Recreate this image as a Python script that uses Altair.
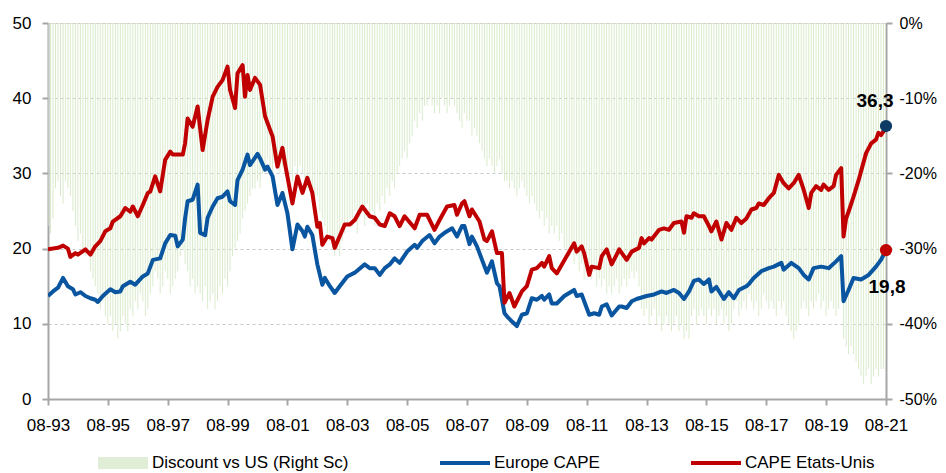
import altair as alt
import pandas as pd

# ---------------- data (month offsets from Aug 1993) ----------------
us_months = [0, 4, 6, 8, 9, 11, 12, 15, 17, 19, 21, 23, 25, 26, 29, 31, 33, 34, 36, 38, 40, 41, 43, 45, 47, 49, 50,
             54, 55, 56, 58, 60, 62, 64, 66, 68, 70, 72, 73, 75, 76, 78, 79, 80, 81, 83, 85, 87, 89, 90, 92, 94, 95,
             98, 100, 102, 104, 106, 108, 109, 110, 112, 114, 115, 119, 121, 123, 126, 129, 131, 133, 135, 137, 139,
             141, 143, 147, 149, 152, 155, 157, 160, 163, 164, 166, 167, 169, 170, 173, 175, 176, 178, 180, 182, 183,
             185, 187, 190, 192, 194, 196, 198, 199, 201, 202, 204, 208, 211, 212, 214, 215, 217, 218, 221, 222, 224,
             226, 228, 229, 232, 234, 237, 238, 239, 241, 242, 245, 247, 249, 251, 254, 255, 256, 258, 259, 261, 263,
             265, 266, 268, 270, 272, 274, 276, 278, 280, 282, 284, 285, 287, 289, 291, 293, 295, 297, 299, 301, 303,
             305, 306, 308, 310, 311, 313, 315, 316, 318, 319, 320, 321, 323, 325, 326, 328, 330, 332, 333, 334, 335, 336]
us_cape = [19.9, 20.1, 20.4, 20.0, 18.9, 19.4, 19.2, 19.9, 19.2, 20.3, 21.0, 22.3, 22.7, 23.6, 24.3, 25.4, 24.9, 25.6,
           24.3, 25.8, 27.4, 27.6, 29.6, 27.6, 31.8, 32.9, 32.5,
           32.5, 34.0, 37.3, 36.2, 38.9, 33.1, 37.1, 40.2, 41.5, 42.4, 44.2, 41.1, 38.7, 43.3, 44.4, 40.2, 43.1, 41.1,
           42.7, 41.8, 37.6, 35.8, 34.9, 30.9, 33.4, 31.4,
           26.0, 29.6, 27.4, 29.4, 27.4, 22.9, 23.4, 20.5, 21.6, 21.4, 20.1, 23.2, 23.2, 23.8, 25.6, 24.3, 24.1, 23.2,
           23.0, 24.7, 24.3,
           23.0, 24.3, 22.7, 24.5, 24.5, 22.5, 23.8, 25.6, 25.8, 24.5, 26.0, 26.3, 24.3, 25.2, 23.6, 21.2, 21.0, 22.3,
           19.4, 19.4, 12.8,
           14.1, 12.3, 14.3, 15.0, 17.2, 17.4, 18.1, 17.6, 19.0, 17.4, 16.7, 19.0, 20.7, 19.6, 20.3, 19.4, 16.5, 17.6,
           17.4, 19.0, 19.9,
           17.9, 19.2, 19.9, 18.5, 19.6, 20.1, 21.4, 20.7, 21.4, 21.2, 22.5, 22.7, 22.5, 23.4, 23.6, 22.1, 24.3, 24.1,
           24.7, 24.3, 24.3,
           23.0, 22.3, 23.6, 21.2, 23.4, 22.5, 24.1, 23.4, 24.0, 25.2, 25.4, 26.0, 25.8, 26.7, 27.4, 29.8, 28.7, 28.0,
           28.7, 29.8, 27.8,
           25.4, 27.4, 28.3, 27.8, 28.5, 27.8, 28.3, 29.8, 30.7, 21.6, 24.0, 24.9, 26.9, 29.1, 30.3, 32.7, 34.0, 34.5,
           35.4, 35.1, 35.6, 36.3]

eu_months = [0, 2, 4, 6, 8, 10, 11, 13, 15, 17, 19, 20, 22, 25, 27, 29, 30, 33, 35, 38, 40, 42, 45, 47, 49, 51, 52,
             54, 55, 56, 58, 60, 61, 63, 64, 66, 68, 70, 72, 73, 75, 76, 78, 80, 81, 84, 85, 87, 88, 90, 92, 94, 96,
             98, 100, 102, 103, 104, 106, 108, 110, 111, 113, 115, 117, 120, 123, 127, 129, 131, 133, 135, 137, 139,
             141, 144, 147, 148, 150, 153, 155, 157, 159, 162, 164, 166, 167, 169, 170, 172, 174, 176, 178, 180, 181,
             183, 184, 186, 188, 190, 192, 194, 196, 198, 199, 201, 202, 204, 207, 211, 212, 214, 217, 219, 221, 222,
             224, 226, 229, 230, 232, 234, 236, 238, 240, 243, 246, 248, 251, 253, 255, 257, 259, 261, 263, 265, 266,
             268, 271, 273, 275, 277, 280, 281, 283, 286, 289, 291, 294, 295, 298, 301, 303, 305, 307, 310, 313, 316,
             318, 319, 321, 323, 326, 329, 332, 334, 336]
eu_cape = [13.7, 14.3, 14.8, 16.1, 15.0, 14.6, 13.9, 14.2, 13.7, 13.4, 13.2, 12.9, 13.7, 14.6, 14.2, 14.3, 15.0, 15.6,
           15.2, 16.3, 16.7, 18.5, 18.7, 20.7, 21.8, 21.7, 20.3,
           21.2, 24.0, 26.3, 26.5, 28.5, 22.1, 21.8, 24.1, 25.6, 26.7, 26.9, 27.6, 26.3, 25.8, 29.1, 30.5, 32.5, 31.1,
           32.6, 32.0, 30.5, 30.9, 29.6, 25.8, 27.4, 24.7,
           19.9, 23.2, 22.3, 21.6, 22.9, 21.8, 17.9, 15.2, 16.1, 15.0, 14.1, 15.0, 16.3, 16.8, 17.9, 17.4, 17.4, 16.5,
           17.4, 17.9, 18.7,
           18.1, 19.6, 20.5, 20.1, 21.0, 21.8, 20.7, 21.6, 22.1, 22.7, 21.6, 23.0, 23.0, 20.6, 21.6, 20.3, 18.5, 16.8,
           18.3, 15.4, 15.0,
           11.4, 11.0, 10.3, 9.7, 11.2, 11.4, 13.4, 13.2, 13.7, 13.2, 13.9, 12.7, 12.7, 13.7, 14.5, 13.7, 13.9, 11.2,
           11.4, 11.2, 12.3,
           12.6, 11.1, 12.3, 12.3, 12.1, 13.0, 13.3, 13.5, 13.7, 13.9, 14.3, 14.1, 14.5, 14.1, 13.3, 14.3, 15.7, 15.9,
           15.3, 15.9, 14.3,
           14.9, 13.3, 14.2, 13.4, 14.5, 15.0, 15.3, 16.1, 17.0, 17.4, 17.6, 18.1, 17.2, 18.1, 17.4, 16.5, 15.9, 17.4,
           17.6, 17.4, 18.3,
           19.0, 13.0, 14.5, 16.1, 15.9, 16.5, 17.6, 18.5, 19.8]

# Discount of Europe vs US (right scale, %), monthly from Aug 1993
discount = [
    -27, -28, -26,
    -22, -21, -23, -24, -21, -22, -23, -25,
    -27, -29, -28, -30, -31, -30, -33, -34,
    -35, -36, -38, -37, -39, -40, -39,
    -41, -40, -42, -41, -39, -40, -41,
    -38, -39, -37, -38, -36, -37, -39, -38, -36,
    -35, -33, -34, -36, -35, -33, -34, -36, -35, -34, -33,
    -31, -30, -32, -33, -35, -34, -36, -35,
    -36, -37, -35, -38, -37, -36, -38, -37, -35, -36, -34, -35, -33, -31, -30, -29, -28,
    -26, -25, -24, -23, -22, -22, -21, -22, -20,
    -19, -18, -19, -20, -18, -19, -20, -19, -18, -19, -20, -21, -19, -20,
    -19, -20, -21, -22, -21, -23, -24, -23, -25, -26,
    -27, -28, -29, -30, -31, -30, -31, -29, -28, -27,
    -26, -27, -25, -28, -26, -25, -27, -24, -26, -25, -27, -24, -25, -23, -24, -22,
    -23, -21, -22, -20, -19, -18, -17, -18,
    -16, -15, -13, -14, -12, -13, -11,
    -11, -10, -11, -12, -11, -12, -10, -11, -12, -11, -10, -11, -12, -13, -14, -12, -13,
    -13, -15, -14, -15, -16, -17, -18,
    -19, -18, -19, -20, -19, -18, -20, -21,
    -21, -22, -21, -22, -23, -22, -21, -22, -23, -24, -23,
    -24, -25, -26, -25, -27, -26, -28, -27, -28, -27, -29, -28, -30,
    -30, -31, -30, -32, -31, -33, -32, -34, -33, -32, -34, -33, -35, -34,
    -35, -34, -36, -35, -36, -35, -34, -36, -35, -34, -35,
    -34, -33, -34, -33, -35,
    -38, -39, -38, -40, -39, -38, -40, -39, -41, -40, -39, -40, -41, -40, -39, -41, -40, -42, -41, -42,
    -39, -38, -40, -39, -38, -39, -40, -38, -39, -38, -40, -39, -38, -40, -39, -41, -40,
    -38, -37, -39, -38, -37, -38, -36, -37, -38, -37, -39, -38, -36, -37, -38, -37, -38, -39, -37, -38, -37, -39,
    -40, -41, -42, -41, -40,
    -38, -37, -38, -39, -37, -38, -37, -36, -38, -37, -39, -38, -37, -38, -39, -38, -37,
    -42, -43, -44, -43, -44, -45,
    -46, -47, -48, -47, -46, -48, -47, -46, -47, -46,
    -46, -45,
]

series_names = ["Discount vs US (Right Sc)", "Europe CAPE", "CAPE Etats-Unis"]
series_colors = ["#e0eed7", "#0a55a0", "#c00000"]
bar_color = "#d9ebcc"
end_labels = ["36,3", "19,8"]
end_values = [36.3, 19.8]
end_dot_colors = ["#0d3b66", "#c00000"]


def mdate(m):
    y = 1993 + (7 + m) // 12
    mo = (7 + m) % 12 + 1
    return f"{y}-{mo:02d}-01T00:00:00"


df_disc = pd.DataFrame({
    "date": [mdate(i) for i in range(len(discount))],
    "discount": discount,
})
df_lines = pd.concat([
    pd.DataFrame({"date": [mdate(m) for m in eu_months], "cape": eu_cape, "series": series_names[1]}),
    pd.DataFrame({"date": [mdate(m) for m in us_months], "cape": us_cape, "series": series_names[2]}),
])
last = mdate(len(discount) - 1)
df_end = pd.DataFrame({"date": [last, last], "cape": end_values, "label": end_labels, "dot": end_dot_colors})

FONT = "Liberation Sans, Arial, sans-serif"
AX_GRAY = "#a6a6a6"
FS = 17

is_bar = f"datum.value == '{series_names[0]}'"
legend = alt.Legend(
    title=None, orient="none", legendX=50, legendY=415, direction="horizontal",
    symbolType=alt.ExprRef(expr=f"{is_bar} ? 'M-1,-0.24H1V0.24H-1Z' : 'M-1,-0.08H1V0.08H-1Z'"),
    symbolSize=2500, symbolStrokeWidth=0, symbolOpacity=1,
    symbolFillColor=alt.ExprRef(
        expr=f"{is_bar} ? '{series_colors[0]}' : datum.value == '{series_names[1]}' ? '{series_colors[1]}' : '{series_colors[2]}'"),
    labelFont=FONT, labelFontSize=FS, labelColor="#000000", labelOffset=4, labelLimit=400,
    columnPadding=91,
)

x_dom = [alt.DateTime(year=1993, month=8, date=1), alt.DateTime(year=2021, month=8, date=1)]
x_axis = alt.Axis(
    values=[alt.DateTime(year=y, month=8, date=1) for y in range(1993, 2022, 2)],
    format="%m-%y", title=None, grid=False, labelFont=FONT, labelFontSize=FS, labelColor="#000000",
    domainColor=AX_GRAY, domainWidth=2, tickColor=AX_GRAY, tickWidth=2, tickSize=6, labelPadding=12,
    labelOverlap=False, labelFlush=False,
)
x_enc = alt.X("date:T", scale=alt.Scale(domain=x_dom, padding=0), axis=x_axis)

bars = alt.Chart(df_disc).mark_bar(size=1.0, clip=True, color=bar_color).encode(
    x=x_enc,
    y=alt.Y("discount:Q", scale=alt.Scale(domain=[-50, 0], nice=False),
            axis=alt.Axis(orient="right", values=list(range(-50, 1, 10)), labelExpr="datum.value + '%'",
                          grid=False, title=None, labelFont=FONT, labelFontSize=16, labelColor="#000000",
                          domainColor=AX_GRAY, domainWidth=2, tickColor=AX_GRAY, tickWidth=2, tickSize=6,
                          labelPadding=7)),
)

y_left = alt.Y("cape:Q", scale=alt.Scale(domain=[0, 50], nice=False),
               axis=alt.Axis(orient="left", values=list(range(0, 51, 10)), grid=True, gridDash=[3, 3],
                             gridColor="#c8c8c8", gridWidth=1, title=None, labelFont=FONT, labelFontSize=FS,
                             labelColor="#000000", domainColor=AX_GRAY, domainWidth=2, tickColor=AX_GRAY,
                             tickWidth=2, tickSize=6, labelPadding=11))

lines = alt.Chart(df_lines).mark_line(strokeWidth=4, strokeJoin="round", clip=True).encode(
    x=alt.X("date:T"),
    y=y_left,
    color=alt.Color("series:N", scale=alt.Scale(domain=series_names, range=series_colors), legend=legend),
)

dots = alt.Chart(df_end).mark_circle(size=150, opacity=1).encode(
    x=alt.X("date:T"), y=alt.Y("cape:Q"), fill=alt.Fill("dot:N", scale=None),
)
lab_hi = alt.Chart(df_end).transform_filter(alt.datum.cape > 30).mark_text(
    font=FONT, fontSize=19, fontWeight="bold", dx=-11, dy=-19, baseline="alphabetic", align="center",
    color="#000000").encode(x=alt.X("date:T"), y=alt.Y("cape:Q"), text="label:N")
lab_lo = alt.Chart(df_end).transform_filter(alt.datum.cape < 30).mark_text(
    font=FONT, fontSize=19, fontWeight="bold", dx=1, dy=43, baseline="alphabetic", align="center",
    color="#000000").encode(x=alt.X("date:T"), y=alt.Y("cape:Q"), text="label:N")

front = alt.layer(lines, dots, lab_hi, lab_lo)

chart = alt.layer(bars, front).resolve_scale(y="independent").properties(
    width=838, height=376,
    padding={"left": 40, "top": 15, "right": 52, "bottom": 80},
    autosize=alt.AutoSizeParams(type="none"),
).configure_view(stroke=None).configure(background="white")

chart.save("out.html", embed_options={"renderer": "svg", "actions": False})
